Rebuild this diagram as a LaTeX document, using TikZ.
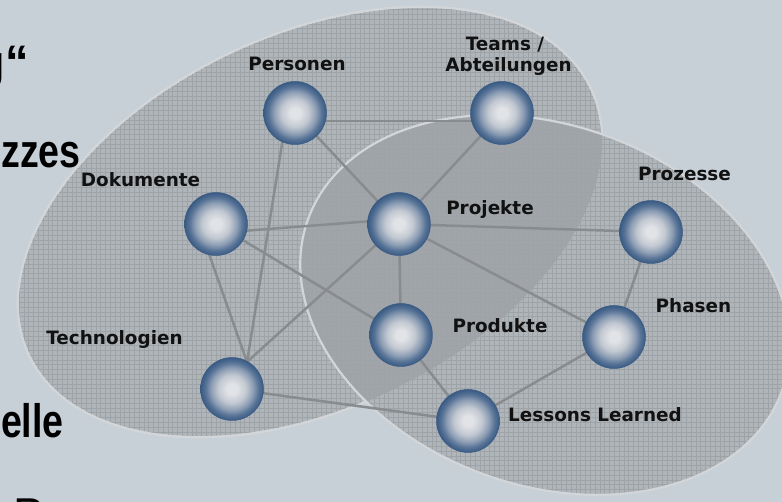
\documentclass[tikz,border=0pt]{standalone}
\usepackage{fontspec}
\usepackage{graphicx}
\newfontfamily\lblfont{DejaVu Sans}
\newfontfamily\ttlfont{Liberation Sans}
\usetikzlibrary{calc}
\definecolor{bgc}{HTML}{C7CFD7}
\definecolor{ellfill}{HTML}{B0B5BA}
\definecolor{ovlfill}{HTML}{A1A5AA}
\definecolor{gridc}{HTML}{9EA3A8}
\definecolor{rimc}{HTML}{D3D6D9}
\definecolor{edgec}{HTML}{898C8F}
\definecolor{sphA}{HTML}{E1E3E6}
\definecolor{sphB}{HTML}{C3C9D2}
\definecolor{sphC}{HTML}{8B9CB3}
\definecolor{sphD}{HTML}{587497}
\definecolor{sphE}{HTML}{3A5B84}
\definecolor{txtc}{HTML}{111111}
\pgfdeclareradialshading{sphshade}{\pgfpoint{0bp}{0bp}}{color(0bp)=(sphA); color(4bp)=(sphA); color(11bp)=(sphB); color(17bp)=(sphC); color(21bp)=(sphD); color(25bp)=(sphE); color(50bp)=(sphE)}
\pgfdeclarelayer{bglayer}
\pgfdeclarelayer{edgelayer}
\pgfsetlayers{bglayer,edgelayer,main}
\newcommand\EllA{\pgfpathellipse{\pgfpoint{310pt}{-222pt}}{\pgfpoint{280.94pt}{133.40pt}}{\pgfpoint{-80.21pt}{168.92pt}}}
\newcommand\EllB{\pgfpathellipse{\pgfpoint{545pt}{-305pt}}{\pgfpoint{236.80pt}{-86.19pt}}{\pgfpoint{61.56pt}{169.14pt}}}
\tikzset{
  kball/.style={circle, minimum size=63pt, inner sep=0pt, shade, shading=sphshade, draw=sphE, line width=0.5pt},
  lbl/.style={font=\lblfont\bfseries\fontsize{18.4}{22}\selectfont, text=txtc, inner sep=0pt, anchor=base},
  ttl/.style={font=\ttlfont\bfseries\fontsize{47}{56}\selectfont, text=black, inner sep=0pt, anchor=base east},
  link/.style={draw=edgec, line width=2.5pt},
}
\begin{document}
\begin{tikzpicture}[x=1pt,y=-1pt]
\useasboundingbox (0,0) rectangle (782,502);
\begin{pgfonlayer}{bglayer}
  \fill[bgc] (-5,-5) rectangle (787,507);
  \node[ttl] (tG) at (29,78.5) {\scalebox{0.8}[1]{g}\kern1pt“};
  \node[ttl] (tZ) at (81,168) {\scalebox{0.8}[1]{zzes}};
  \node[ttl] (tE) at (64,437.5) {\scalebox{0.8}[1]{elle}};
  \node[font=\ttlfont\fontsize{46}{55}\selectfont, text=black, inner sep=0pt, anchor=base west] (tP) at (13,530) {Personen};
  % ellipse fills
  \begin{scope}
    \pgfsetfillcolor{ellfill}
    \EllA\pgfusepath{fill}
    \pgfsetstrokecolor{rimc}\pgfsetlinewidth{2.2pt}
    \EllA\pgfusepath{stroke}
    \EllB\pgfusepath{fill}
  \end{scope}
  \begin{scope}
    \EllA\pgfusepath{clip}
    \pgfsetfillcolor{ovlfill}
    \EllB\pgfusepath{fill}
  \end{scope}
  \begin{scope}
    \EllA\EllB\pgfusepath{clip}
    \draw[gridc, line width=0.7pt] (0,0) grid[step=4.8pt] (782,502);
  \end{scope}
  \begin{scope}
    \pgfpathrectangle{\pgfpoint{-20pt}{20pt}}{\pgfpoint{830pt}{-560pt}}
    \EllB
    \pgfseteorule
    \pgfusepath{clip}
    \pgfsetnonzerorule
    \pgfsetstrokecolor{rimc}\pgfsetlinewidth{2.2pt}
    \EllA\pgfusepath{stroke}
  \end{scope}
  \begin{scope}
    \pgfsetstrokecolor{rimc}\pgfsetlinewidth{2.2pt}
    \EllB\pgfusepath{stroke}
  \end{scope}
\end{pgfonlayer}
% spheres
\node[kball] (nPers) at (295,113) {};
\node[kball] (nTeam) at (502,113) {};
\node[kball] (nDoku) at (216,224) {};
\node[kball] (nProj) at (399,224) {};
\node[kball] (nProz) at (651,232) {};
\node[kball] (nProd) at (401,335) {};
\node[kball] (nPhas) at (614,337) {};
\node[kball] (nTech) at (232,389) {};
\node[kball] (nLess) at (468,421) {};
% labels
\node[lbl] (lPers) at (297,71) {Personen};
\node[lbl] (lTeam1) at (505,51) {Teams /};
\node[lbl] (lTeam2) at (508.5,72) {Abteilungen};
\node[lbl] (lDoku) at (140.5,187) {Dokumente};
\node[lbl] (lProj) at (490,215) {Projekte};
\node[lbl] (lProz) at (684.5,181) {Prozesse};
\node[lbl] (lPhas) at (693.5,313) {Phasen};
\node[lbl] (lProd) at (500,333) {Produkte};
\node[lbl] (lTech) at (114.5,345) {Technologien};
\node[lbl] (lLess) at (595,421.5) {Lessons Learned};
% connectors
\begin{pgfonlayer}{edgelayer}
  \draw[link] ($(nPers.center)+(0,8)$) -- ($(nTeam.center)+(0,8)$);
  \draw[link] (nPers.center) -- (nProj.center);
  \draw[link] ($(nPers.center)+(-8,0)$) -- ($(nTech.center)+(15,-27)$);
  \draw[link] (nTeam.center) -- (nProj.center);
  \draw[link] ($(nDoku.center)+(0,9)$) -- ($(nProj.center)+(0,-5)$);
  \draw[link] ($(nDoku.center)+(-14,10)$) -- ($(nTech.center)+(15,-27)$);
  \draw[link] (nDoku.center) -- (nProd.center);
  \draw[link] (nProj.center) -- (nProz.center);
  \draw[link] (nProj.center) -- (nProd.center);
  \draw[link] (nProj.center) -- ($(nTech.center)+(15,-27)$);
  \draw[link] (nProj.center) -- (nPhas.center);
  \draw[link] (nProz.center) -- (nPhas.center);
  \draw[link] (nPhas.center) -- (nLess.center);
  \draw[link] (nProd.center) -- (nLess.center);
  \draw[link] (nTech.center) -- (nLess.center);
\end{pgfonlayer}
\end{tikzpicture}
\end{document}
